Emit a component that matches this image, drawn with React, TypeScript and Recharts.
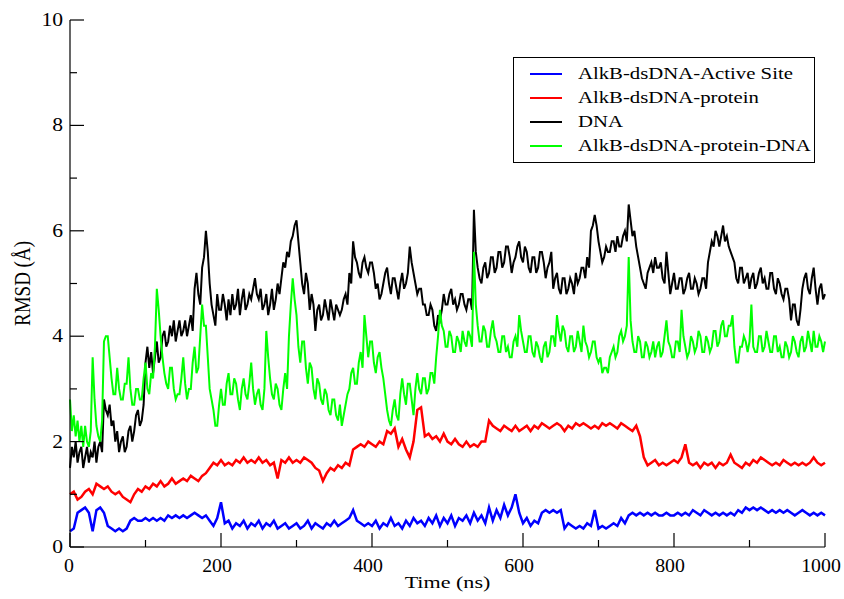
import React from 'react';
import { LineChart, Line, XAxis, YAxis, Legend } from 'recharts';

// sampling intervals of the trajectories (ns)
const STEP = 5;
const FINE_STEP = 2.5;

// RMSD (Å), one value every 5 ns from 0 to 1000 ns (10 per row = 50 ns)
const activeSite = [
  0.3, 0.35, 0.65, 0.7, 0.75, 0.65, 0.3, 0.7, 0.75, 0.65,
  0.4, 0.35, 0.3, 0.35, 0.3, 0.35, 0.5, 0.55, 0.5, 0.5,
  0.55, 0.5, 0.55, 0.5, 0.55, 0.5, 0.6, 0.55, 0.6, 0.55,
  0.6, 0.55, 0.6, 0.65, 0.6, 0.55, 0.6, 0.5, 0.4, 0.55,
  0.85, 0.45, 0.5, 0.35, 0.45, 0.4, 0.5, 0.35, 0.45, 0.4,
  0.5, 0.35, 0.45, 0.4, 0.5, 0.35, 0.4, 0.45, 0.35, 0.4,
  0.45, 0.35, 0.4, 0.5, 0.35, 0.45, 0.4, 0.35, 0.45, 0.4,
  0.5, 0.4, 0.45, 0.5, 0.55, 0.7, 0.5, 0.45, 0.4, 0.45,
  0.4, 0.5, 0.35, 0.45, 0.4, 0.55, 0.4, 0.45, 0.35, 0.5,
  0.4, 0.55, 0.45, 0.5, 0.4, 0.55, 0.45, 0.6, 0.4, 0.55,
  0.45, 0.6, 0.4, 0.55, 0.5, 0.6, 0.45, 0.65, 0.5, 0.6,
  0.45, 0.75, 0.5, 0.7, 0.55, 0.8, 0.6, 0.75, 1.0, 0.65,
  0.45, 0.55, 0.4, 0.5, 0.45, 0.65, 0.7, 0.65, 0.7, 0.65,
  0.7, 0.35, 0.45, 0.4, 0.35, 0.4, 0.35, 0.45, 0.4, 0.7,
  0.35, 0.4, 0.35, 0.4, 0.45, 0.4, 0.55, 0.45, 0.6, 0.65,
  0.6, 0.65, 0.6, 0.65, 0.6, 0.65, 0.6, 0.6, 0.65, 0.6,
  0.6, 0.65, 0.6, 0.65, 0.6, 0.7, 0.65, 0.6, 0.7, 0.65,
  0.6, 0.65, 0.6, 0.65, 0.6, 0.65, 0.6, 0.7, 0.65, 0.75,
  0.7, 0.75, 0.7, 0.75, 0.7, 0.65, 0.7, 0.65, 0.7, 0.65,
  0.7, 0.65, 0.6, 0.65, 0.7, 0.65, 0.6, 0.65, 0.6, 0.65,
  0.6,
];

const protein = [
  1.0, 1.05, 0.9, 0.95, 1.05, 1.1, 1.0, 1.2, 1.15, 1.1,
  1.15, 1.05, 1.0, 1.05, 0.95, 0.9, 0.85, 1.0, 1.1, 1.05,
  1.15, 1.1, 1.2, 1.15, 1.25, 1.15, 1.2, 1.3, 1.2, 1.25,
  1.3, 1.25, 1.35, 1.3, 1.25, 1.35, 1.4, 1.5, 1.6, 1.55,
  1.65, 1.55, 1.6, 1.55, 1.65, 1.6, 1.7, 1.6, 1.65, 1.6,
  1.7, 1.6, 1.65, 1.55, 1.6, 1.3, 1.65, 1.6, 1.7, 1.6,
  1.65, 1.6, 1.7, 1.65, 1.6, 1.5, 1.45, 1.25, 1.4, 1.5,
  1.45, 1.55, 1.5, 1.6, 1.55, 1.85, 1.9, 1.95, 1.9, 2.0,
  1.95, 1.9, 2.0, 1.95, 2.2, 2.15, 2.25, 1.9, 2.05, 1.85,
  1.7, 2.0, 2.6, 2.65, 2.1, 2.15, 2.05, 2.1, 2.0, 2.15,
  2.0, 1.95, 2.05, 1.95, 1.9, 2.0, 1.9, 1.95, 1.9, 2.0,
  2.0, 2.4, 2.3, 2.25, 2.2, 2.3, 2.25, 2.2, 2.3, 2.2,
  2.25, 2.3, 2.2, 2.3, 2.25, 2.35, 2.3, 2.25, 2.3, 2.35,
  2.3, 2.2, 2.3, 2.25, 2.35, 2.3, 2.35, 2.3, 2.25, 2.3,
  2.25, 2.35, 2.3, 2.35, 2.3, 2.25, 2.35, 2.3, 2.25, 2.2,
  2.3, 2.1, 1.7, 1.55, 1.6, 1.65, 1.55, 1.6, 1.55, 1.6,
  1.65, 1.6, 1.7, 1.95, 1.6, 1.55, 1.6, 1.5, 1.6, 1.55,
  1.6, 1.5, 1.6, 1.55, 1.6, 1.75, 1.6, 1.55, 1.5, 1.6,
  1.55, 1.65, 1.6, 1.7, 1.65, 1.6, 1.55, 1.6, 1.55, 1.65,
  1.6, 1.55, 1.6, 1.55, 1.6, 1.55, 1.6, 1.7, 1.6, 1.55,
  1.6,
];

// RMSD (Å), one value every 2.5 ns from 0 to 1000 ns (20 per row = 50 ns)
const dna = [
  1.5, 1.9, 1.7, 2.0, 1.6, 1.8, 1.9, 1.5, 1.7, 1.9, 1.6, 1.8, 1.7, 2.0, 1.6, 1.9, 2.0, 1.8, 2.8, 2.6,
  2.5, 2.7, 2.3, 2.4, 2.0, 2.2, 1.8, 2.0, 2.1, 1.8, 1.9, 2.2, 2.3, 2.0, 2.2, 2.5, 2.6, 2.3, 2.4, 2.7,
  3.5, 3.8, 3.4, 3.7, 3.3, 3.6, 3.9, 3.5, 3.6, 4.0, 4.1, 3.8, 3.9, 4.2, 4.0, 4.3, 3.9, 4.1, 4.3, 4.0,
  4.1, 4.3, 4.0, 4.2, 4.4, 4.1, 4.9, 5.2, 4.8, 4.6, 5.3, 5.5, 6.0, 5.6, 5.0, 4.6, 4.4, 4.2, 4.8, 4.5,
  4.5, 4.8, 4.6, 4.3, 4.7, 4.4, 4.8, 4.5, 4.6, 4.9, 4.4, 4.7, 4.9, 4.5, 4.6, 4.8, 4.7, 4.9, 5.1, 4.8,
  4.7, 4.9, 4.5, 4.6, 4.8, 4.4, 4.6, 4.9, 4.5, 4.7, 5.0, 4.8, 5.1, 5.4, 5.3, 5.6, 5.5, 5.8, 5.9, 6.1,
  6.2, 5.8, 5.4, 5.0, 4.8, 5.2, 5.0, 4.5, 4.8, 4.6, 4.1, 4.5, 4.6, 4.3, 4.4, 4.7, 4.5, 4.3, 4.7, 4.5,
  4.3, 4.6, 4.5, 4.4, 4.5, 4.7, 4.8, 4.6, 5.2, 5.0, 5.8, 5.5, 5.4, 5.2, 5.1, 5.4, 5.5, 5.3, 5.2, 5.4,
  5.4, 5.2, 4.9, 5.0, 4.7, 4.8, 5.0, 5.2, 5.3, 5.0, 4.8, 5.1, 5.1, 4.9, 4.7, 5.0, 5.2, 4.9, 5.0, 5.2,
  5.7, 5.4, 5.2, 5.0, 4.8, 4.9, 4.9, 4.6, 4.6, 4.4, 4.4, 4.6, 4.5, 4.2, 4.1, 4.4, 4.3, 4.5, 4.8, 4.6,
  4.6, 4.8, 4.9, 4.6, 4.7, 4.5, 4.6, 4.8, 4.8, 4.6, 4.5, 4.7, 4.7, 4.5, 6.4, 5.6, 5.3, 5.1, 5.0, 5.3,
  5.4, 5.1, 5.2, 5.5, 5.5, 5.2, 5.3, 5.6, 5.6, 5.3, 5.4, 5.7, 5.7, 5.5, 5.2, 5.4, 5.5, 5.7, 5.8, 5.5,
  5.4, 5.7, 5.6, 5.3, 5.2, 5.5, 5.5, 5.2, 5.3, 5.6, 5.6, 5.4, 5.1, 5.3, 5.4, 5.6, 4.9, 5.1, 5.2, 4.9,
  4.8, 5.1, 5.1, 4.8, 4.9, 5.1, 5.0, 4.8, 5.2, 5.0, 5.1, 5.3, 5.3, 5.1, 5.5, 5.3, 6.0, 6.1, 6.3, 6.1,
  5.8, 5.6, 5.4, 5.5, 5.7, 5.6, 5.6, 5.8, 5.8, 5.6, 5.9, 5.7, 5.7, 5.9, 6.0, 5.8, 6.5, 6.2, 5.9, 6.0,
  5.7, 5.5, 5.3, 5.1, 5.0, 4.9, 5.2, 5.3, 5.4, 5.2, 5.5, 5.3, 5.3, 5.4, 5.1, 5.0, 5.6, 5.2, 4.8, 5.0,
  5.2, 4.9, 4.9, 5.1, 5.1, 4.8, 4.9, 5.1, 5.2, 4.9, 4.9, 5.1, 5.0, 4.8, 4.9, 5.1, 5.1, 4.9, 5.4, 5.6,
  5.8, 5.7, 6.0, 5.9, 5.7, 5.9, 6.1, 5.8, 5.9, 5.7, 5.6, 5.5, 5.4, 5.1, 5.0, 5.3, 5.3, 5.0, 5.1, 5.2,
  4.9, 5.1, 5.2, 4.9, 5.0, 5.2, 5.3, 5.0, 5.1, 4.9, 4.9, 5.2, 5.2, 4.9, 4.8, 5.1, 5.0, 4.8, 4.7, 4.9,
  4.9, 4.7, 4.3, 4.6, 4.6, 4.3, 4.2, 4.5, 4.9, 5.1, 5.2, 4.9, 4.8, 5.1, 5.3, 4.9, 4.6, 4.9, 5.0, 4.7,
  4.8,
];

const proteinDna = [
  2.8, 2.2, 2.5, 2.1, 2.4, 2.0, 2.3, 1.9, 2.3, 2.0, 1.9, 2.2, 3.6, 2.8, 2.3, 2.1, 2.0, 2.4, 3.9, 4.0,
  4.0, 3.6, 3.2, 2.9, 2.9, 3.4, 3.0, 2.8, 2.8, 3.1, 3.1, 3.6, 3.0, 2.7, 2.7, 3.0, 3.0, 2.8, 2.8, 3.2,
  3.5, 3.0, 2.9, 3.3, 3.2, 3.8, 4.9, 4.5, 4.0, 3.6, 3.3, 3.1, 3.0, 3.4, 3.4, 3.0, 2.8, 2.9, 2.9, 3.2,
  3.6, 3.1, 2.8, 3.0, 3.0, 3.5, 3.8, 3.3, 3.4, 4.0, 4.6, 4.2, 4.2, 3.6, 3.0, 2.8, 2.6, 2.3, 2.3, 2.7,
  3.0, 2.7, 2.7, 3.1, 3.3, 2.9, 2.9, 3.2, 3.1, 2.8, 2.6, 3.0, 3.2, 2.9, 2.8, 3.1, 3.5, 3.0, 2.7, 2.9,
  3.0, 2.7, 2.6, 3.0, 4.1, 3.6, 3.2, 2.9, 2.8, 3.1, 3.0, 2.7, 2.6, 3.0, 3.3, 3.0, 4.0, 4.6, 5.1, 4.7,
  4.4, 3.8, 3.5, 3.9, 3.9, 3.4, 3.1, 3.5, 3.4, 3.0, 2.8, 3.2, 3.1, 2.8, 2.7, 3.0, 2.9, 2.6, 2.5, 2.8,
  2.8, 2.5, 2.4, 2.7, 2.3, 2.5, 2.7, 2.9, 3.0, 3.3, 3.4, 3.1, 3.1, 3.5, 3.7, 3.4, 4.4, 4.0, 3.6, 3.9,
  3.9, 3.5, 3.3, 3.6, 3.7, 3.4, 3.2, 2.9, 2.6, 2.4, 2.3, 2.6, 2.8, 2.5, 2.4, 2.9, 3.2, 2.9, 2.7, 3.1,
  3.1, 2.8, 2.5, 3.0, 3.3, 3.0, 2.9, 3.2, 3.2, 2.9, 3.0, 3.3, 3.3, 3.1, 3.6, 4.0, 4.5, 4.2, 4.1, 3.8,
  3.8, 4.1, 4.0, 3.7, 3.7, 4.0, 3.9, 3.7, 4.1, 3.9, 3.8, 4.1, 4.0, 3.8, 5.6, 4.6, 4.2, 3.9, 3.9, 4.2,
  4.1, 3.8, 3.8, 4.1, 4.3, 4.0, 3.9, 3.7, 3.7, 4.0, 4.0, 3.7, 3.8, 3.6, 3.6, 3.9, 4.0, 3.8, 4.4, 4.1,
  3.9, 3.7, 3.7, 4.0, 4.0, 3.7, 3.6, 3.9, 3.8, 3.6, 3.5, 3.8, 3.9, 3.6, 3.7, 4.0, 4.0, 3.8, 4.4, 4.1,
  3.9, 4.2, 4.1, 3.8, 3.7, 4.0, 4.0, 3.7, 3.8, 4.1, 3.9, 3.7, 4.2, 3.9, 3.8, 3.6, 3.7, 3.9, 3.9, 3.6,
  3.5, 3.6, 3.3, 3.4, 3.4, 3.3, 3.6, 3.7, 3.8, 3.6, 3.7, 4.0, 4.1, 3.9, 4.0, 4.2, 5.5, 4.3, 3.9, 3.7,
  3.7, 4.0, 3.9, 3.6, 3.6, 3.9, 3.8, 3.6, 3.7, 3.9, 3.6, 3.8, 3.9, 3.6, 3.7, 4.0, 4.3, 3.9, 3.8, 3.6,
  3.6, 3.9, 3.9, 3.7, 4.5, 4.0, 3.8, 3.6, 3.7, 4.0, 3.9, 3.7, 3.8, 4.1, 4.0, 3.7, 3.7, 4.0, 3.9, 3.7,
  3.8, 4.1, 4.1, 3.8, 3.9, 4.2, 4.3, 4.0, 4.0, 4.2, 4.2, 4.4, 3.8, 3.5, 3.5, 3.8, 3.8, 4.0, 3.9, 3.7,
  3.9, 4.6, 3.8, 3.7, 3.7, 4.0, 4.0, 3.7, 3.8, 4.1, 3.9, 3.7, 3.7, 4.0, 4.0, 3.7, 3.8, 3.6, 3.6, 3.9,
  3.8, 3.6, 3.7, 4.0, 3.9, 3.7, 3.6, 3.9, 4.0, 3.7, 3.8, 4.1, 3.9, 3.7, 4.1, 3.8, 3.8, 4.0, 3.9, 3.7,
  3.9,
];

const xTicks = [0, 100, 200, 300, 400, 500, 600, 700, 800, 900, 1000];
const yTicks = [0, 1, 2, 3, 4, 5, 6, 7, 8, 9, 10];

const coarseData = activeSite.map((v, i) => ({ time: i * STEP, activeSite: v, protein: protein[i] }));
const fineData = dna.map((v, i) => ({ time: i * FINE_STEP, dna: v, proteinDna: proteinDna[i] }));

// legend / drawing order
const SERIES = [
  { key: 'activeSite', name: 'AlkB-dsDNA-Active Site', color: '#0000ff', data: coarseData, width: 2.5 },
  { key: 'protein', name: 'AlkB-dsDNA-protein', color: '#ff0000', data: coarseData, width: 2.5 },
  { key: 'dna', name: 'DNA', color: '#000000', data: fineData, width: 2 },
  { key: 'proteinDna', name: 'AlkB-dsDNA-protein-DNA', color: '#00ff00', data: fineData, width: 2 },
];

const FONT = '"Liberation Serif", "Times New Roman", "DejaVu Serif", serif';
const MAJOR = 14;
const MINOR = 7;

const BottomTick = (props: any) => {
  const { x, y, payload } = props;
  const major = payload.value % 200 === 0;
  const lx = payload.value === 0 ? x - 1 : x - 4;
  return (
    <g>
      <line x1={x} y1={y} x2={x} y2={y - (major ? MAJOR : MINOR)} stroke="#000" strokeWidth={1.2} />
      {major && (
        <text transform={`translate(${lx},${y + 25}) scale(1.1,1)`} textAnchor="middle" fontSize={18} fontFamily={FONT} fill="#000">
          {payload.value}
        </text>
      )}
    </g>
  );
};

const TopTick = (props: any) => {
  const { x, y, payload } = props;
  const major = payload.value % 200 === 0;
  return <line x1={x} y1={y} x2={x} y2={y + (major ? MAJOR : MINOR)} stroke="#000" strokeWidth={1.2} />;
};

const LeftTick = (props: any) => {
  const { x, y, payload } = props;
  const major = payload.value % 2 === 0;
  return (
    <g>
      <line x1={x} y1={y} x2={x + (major ? MAJOR : MINOR)} y2={y} stroke="#000" strokeWidth={1.2} />
      {major && (
        <text transform={`translate(${x - 7},${y + 6}) scale(1.2,1)`} textAnchor="end" fontSize={18} fontFamily={FONT} fill="#000">
          {payload.value}
        </text>
      )}
    </g>
  );
};

const RightTick = (props: any) => {
  const { x, y, payload } = props;
  const major = payload.value % 2 === 0;
  return <line x1={x} y1={y} x2={x - (major ? MAJOR : MINOR)} y2={y} stroke="#000" strokeWidth={1.2} />;
};

const LegendBox = () => (
  <div
    style={{
      border: '1px solid #000',
      background: '#fff',
      width: 302,
      height: 106,
      boxSizing: 'border-box',
      paddingTop: 4,
      fontFamily: FONT,
      fontSize: 17,
      color: '#000',
    }}
  >
    {SERIES.map((s) => (
      <div key={s.key} style={{ display: 'flex', alignItems: 'center', height: 24 }}>
        <span style={{ display: 'inline-block', width: 32, height: 2, background: s.color, marginLeft: 16, marginRight: 16 }} />
        <span style={{ display: 'inline-block', transform: 'scaleX(1.22)', transformOrigin: 'left center', whiteSpace: 'nowrap' }}>
          {s.name}
        </span>
      </div>
    ))}
  </div>
);

export default function App() {
  return (
    <div style={{ position: 'absolute', left: 0, top: 0, width: 844, height: 599, background: '#fff' }}>
      <LineChart width={844} height={599} margin={{ top: 20, right: 19, bottom: 0, left: 0 }}>
        <XAxis
          dataKey="time"
          type="number"
          domain={[0, 1000]}
          ticks={xTicks}
          interval={0}
          height={52}
          tickSize={0}
          tickMargin={0}
          tickLine={false}
          tick={<BottomTick />}
          axisLine={{ stroke: '#000', strokeWidth: 1.2 }}
          allowDuplicatedCategory={false}
          label={(p: any) => {
            const vb = p.viewBox;
            const cx = vb.x + vb.width / 2;
            const cy = vb.y + 41;
            return (
              <text transform={`translate(${cx},${cy}) scale(1.3,1)`} textAnchor="middle" fontSize={17} fontFamily={FONT} fill="#000">
                Time (ns)
              </text>
            );
          }}
        />
        <XAxis
          xAxisId="top"
          orientation="top"
          dataKey="time"
          type="number"
          domain={[0, 1000]}
          ticks={xTicks}
          interval={0}
          height={0}
          tickSize={0}
          tickMargin={0}
          tickLine={false}
          tick={<TopTick />}
          axisLine={{ stroke: '#000', strokeWidth: 1.2 }}
        />
        <YAxis
          type="number"
          domain={[0, 10]}
          ticks={yTicks}
          interval={0}
          width={70}
          tickSize={0}
          tickMargin={0}
          tickLine={false}
          tick={<LeftTick />}
          axisLine={{ stroke: '#000', strokeWidth: 1.2 }}
          label={(p: any) => {
            const vb = p.viewBox;
            const cx = vb.x + 22;
            const cy = vb.y + vb.height / 2;
            return (
              <text transform={`translate(${cx},${cy}) rotate(-90) scale(1,1.25)`} textAnchor="middle" dominantBaseline="central" fontSize={19} fontFamily={FONT} fill="#000">
                RMSD (Å)
              </text>
            );
          }}
        />
        <YAxis
          yAxisId="right"
          orientation="right"
          type="number"
          domain={[0, 10]}
          ticks={yTicks}
          interval={0}
          width={0}
          tickSize={0}
          tickMargin={0}
          tickLine={false}
          tick={<RightTick />}
          axisLine={{ stroke: '#000', strokeWidth: 1.2 }}
        />
        {SERIES.map((s) => (
          <Line
            key={s.key}
            data={s.data}
            dataKey={s.key}
            name={s.name}
            type="linear"
            stroke={s.color}
            strokeWidth={s.width}
            dot={false}
            activeDot={false}
            isAnimationActive={false}
          />
        ))}
        <Legend
          layout="vertical"
          align="center"
          verticalAlign="middle"
          wrapperStyle={{ left: 513, top: 57, width: 302, height: 106 }}
          content={() => <LegendBox />}
        />
      </LineChart>
    </div>
  );
}
